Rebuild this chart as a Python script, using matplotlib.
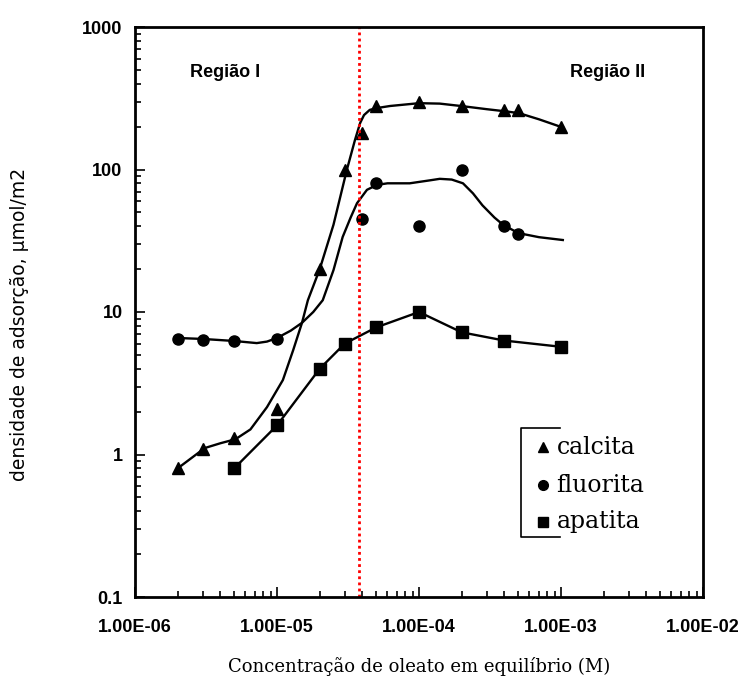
import numpy as np
import matplotlib
matplotlib.use('Agg')
import matplotlib.pyplot as plt

# measured points
calcita_x = [2e-6, 3e-6, 5e-6, 1e-5, 2e-5, 3e-5, 4e-5, 5e-5, 1e-4, 2e-4, 4e-4, 5e-4, 1e-3]
calcita_y = [0.8, 1.1, 1.3, 2.1, 20, 100, 180, 280, 300, 280, 260, 260, 200]

fluorita_x = [2e-6, 3e-6, 5e-6, 1e-5, 4e-5, 5e-5, 1e-4, 2e-4, 4e-4, 5e-4]
fluorita_y = [6.5, 6.4, 6.3, 6.5, 45, 80, 40, 100, 40, 35]

apatita_x = [5e-6, 1e-5, 2e-5, 3e-5, 5e-5, 1e-4, 2e-4, 4e-4, 1e-3]
apatita_y = [0.8, 1.6, 4.0, 6.0, 7.8, 10, 7.2, 6.3, 5.7]

# fitted curves
calcita_fit_x = [2e-6, 3.1e-6, 4e-6, 5.1e-6, 6.5e-6, 8.5e-6, 1.1e-5, 1.3e-5, 1.5e-5,
                 1.65e-5, 2e-5, 2.5e-5, 3.1e-5, 3.54e-5, 3.85e-5, 4.1e-5, 4.5e-5,
                 5.06e-5, 6.25e-5, 1e-4, 1.4e-4, 2.04e-4, 3e-4, 4.2e-4, 5.1e-4,
                 7e-4, 1.03e-3]
calcita_fit_y = [0.8, 1.11, 1.2, 1.28, 1.5, 2.15, 3.33, 5.4, 8.4,
                 12.1, 20, 41, 99, 161, 212, 241, 262,
                 270, 279, 292, 290, 278, 265, 255, 248,
                 225, 197]

fluorita_fit_x = [2e-6, 3e-6, 5e-6, 7.2e-6, 8.5e-6, 1e-5, 1.25e-5, 1.5e-5, 1.8e-5,
                  2.1e-5, 2.5e-5, 2.9e-5, 3.3e-5, 3.66e-5, 4.3e-5, 5.06e-5, 6e-5,
                  8.6e-5, 1.2e-4, 1.4e-4, 1.7e-4, 2.04e-4, 2.4e-4, 2.8e-4, 3.4e-4,
                  3.9e-4, 5e-4, 7e-4, 1.03e-3]
fluorita_fit_y = [6.57, 6.47, 6.26, 6.05, 6.2, 6.57, 7.4, 8.4, 10,
                  12.1, 19.7, 33.6, 46, 58, 72, 78, 80,
                  80, 84, 86, 85, 80, 68, 56, 46,
                  41, 35.8, 33.5, 32]

cmc_x = 3.8e-5

xticks = [1e-6, 1e-5, 1e-4, 1e-3, 1e-2]
xticklabels = ['1.00E-06', '1.00E-05', '1.00E-04', '1.00E-03', '1.00E-02']
yticks = [0.1, 1, 10, 100, 1000]
yticklabels = ['0.1', '1', '10', '100', '1000']

fig = plt.figure(figsize=(7.47, 6.84), dpi=100)
ax = fig.add_axes([135 / 747, 1 - 597 / 684, 568 / 747, 570 / 684])
ax.set_xscale('log')
ax.set_yscale('log')
ax.set_xlim(1e-6, 1e-2)
ax.set_ylim(0.1, 1000)

ax.plot(calcita_fit_x, calcita_fit_y, color='black', lw=1.7, solid_joinstyle='round')
ax.plot(fluorita_fit_x, fluorita_fit_y, color='black', lw=1.7, solid_joinstyle='round')
ax.plot(apatita_x, apatita_y, color='black', lw=1.7, solid_joinstyle='round')

ax.plot(calcita_x, calcita_y, '^', color='black', ms=8.5, ls='none')
ax.plot(fluorita_x, fluorita_y, 'o', color='black', ms=8, ls='none')
ax.plot(apatita_x, apatita_y, 's', color='black', ms=8, ls='none')

ax.axvline(cmc_x, color='red', ls=(0, (1, 1.2)), lw=2)

ax.set_xticks(xticks)
ax.set_xticklabels(xticklabels)
ax.set_yticks(yticks)
ax.set_yticklabels(yticklabels)
ax.tick_params(which='both', direction='in', top=False, right=False)
ax.tick_params(which='major', length=7, width=1.2)
ax.tick_params(which='minor', length=4, width=1.2)
ax.tick_params(axis='x', which='major', pad=16)
ax.tick_params(axis='y', which='major', pad=9)
for lab in ax.get_xticklabels() + ax.get_yticklabels():
    lab.set_fontfamily('Liberation Sans')
    lab.set_fontweight('bold')
    lab.set_fontsize(13)
for sp in ax.spines.values():
    sp.set_linewidth(2)

ax.text(0.097, 0.921, 'Região I', transform=ax.transAxes, fontsize=13,
        fontweight='bold', family='Liberation Sans', va='center')
ax.text(0.765, 0.921, 'Região II', transform=ax.transAxes, fontsize=13,
        fontweight='bold', family='Liberation Sans', va='center')

# legend with bracket
bx0, bx1, by0, by1 = 0.6796, 0.748, 0.105, 0.2965
ax.plot([bx1, bx0, bx0, bx1], [by1, by1, by0, by0], color='black', lw=1.2,
        transform=ax.transAxes, clip_on=False)
leg_rows = [('^', 'calcita', 0.263), ('o', 'fluorita', 0.196), ('s', 'apatita', 0.132)]
for mk, name, yy in leg_rows:
    ax.plot([0.718], [yy], mk, color='black', ms=7, transform=ax.transAxes)
    ax.text(0.742, yy, name, transform=ax.transAxes, fontsize=17,
            family='DejaVu Serif', va='center', ha='left')

fig.text(419 / 747, 1 - 667 / 684, 'Concentração de oleato em equilíbrio (M)',
         ha='center', va='center', fontsize=13, family='DejaVu Serif')
fig.text(20 / 747, 1 - 324 / 684, 'densidade de adsorção, µmol/m2', rotation=90,
         ha='center', va='center', fontsize=13.5, family='DejaVu Sans')

fig.savefig('out.png', dpi=100)
